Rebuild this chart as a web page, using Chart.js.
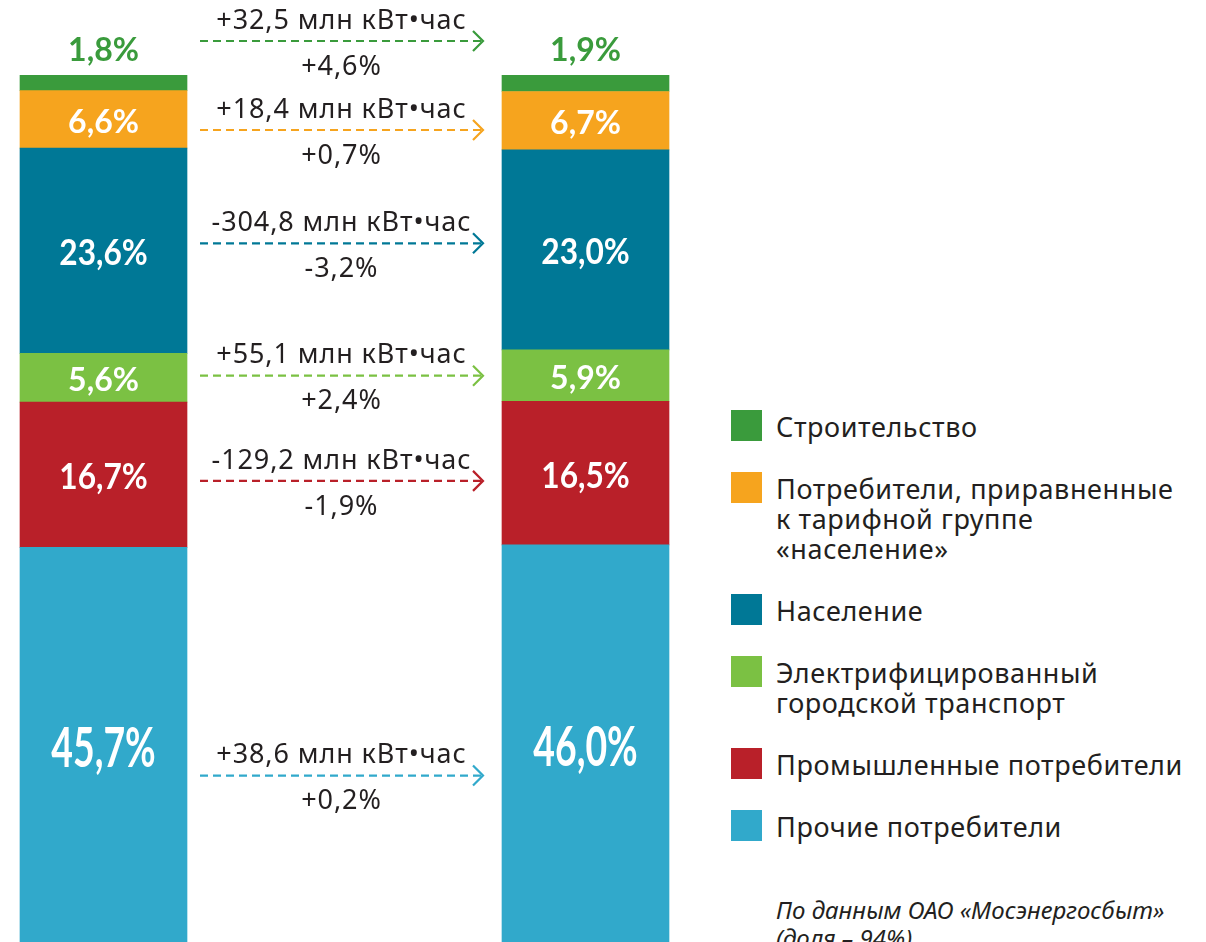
<!DOCTYPE html>
<html lang="ru">
<head>
<meta charset="utf-8">
<title>Структура полезного отпуска электроэнергии</title>
<script src="https://cdn.jsdelivr.net/npm/chart.js@4.4.1/dist/chart.umd.min.js"></script>
<style>
  html, body { margin: 0; padding: 0; background: #fff; overflow: hidden; }
  body { width: 1206px; height: 942px; position: relative; font-family: "Noto Sans", sans-serif; color: #231f20; }
  #wrap { position: absolute; left: -17px; top: 0; width: 740px; height: 945px; }
  #legend { position: absolute; left: 731px; top: 410px; width: 475px; }
  .item { display: flex; align-items: flex-start; margin-bottom: 30px; }
  .sw { width: 31px; height: 31px; flex: none; margin-right: 14px; }
  .txt { font-size: 27px; line-height: 30px; margin-top: 2px; letter-spacing: 0.6px; white-space: nowrap; }
  #note { position: absolute; left: 776px; top: 896px; font-style: italic; font-size: 24px; line-height: 28px; }
</style>
</head>
<body>
<div id="wrap"><canvas id="shareChart" width="740" height="945"></canvas></div>
<div id="legend"></div>
<div id="note">По данным ОАО «Мосэнергосбыт»<br>(доля – 94%)</div>
<script>
"use strict";

// bars: previous year | change column | current year
const categories = ["Прошлый год", "Изменение", "Отчётный год"];

// series from the bottom of the stack to the top
const seriesNames = [
  "Прочие потребители",
  "Промышленные потребители",
  "Электрифицированный городской транспорт",
  "Население",
  "Потребители, приравненные к тарифной группе «население»",
  "Строительство"
];
const legendLines = [
  ["Прочие потребители"],
  ["Промышленные потребители"],
  ["Электрифицированный", "городской транспорт"],
  ["Население"],
  ["Потребители, приравненные", "к тарифной группе", "«население»"],
  ["Строительство"]
];
const sharePrev = [45.7, 16.7, 5.6, 23.6, 6.6, 1.8];
const shareCurr = [46.0, 16.5, 5.9, 23.0, 6.7, 1.9];
const changeMln = [38.6, -129.2, 55.1, -304.8, 18.4, 32.5];
const changePct = [0.2, -1.9, 2.4, -3.2, 0.7, 4.6];

const colors = ["#31a9cb", "#b92029", "#7bc143", "#007896", "#f6a41e", "#3a9b3c"];

function fmt(v, sign) {
  let s = Math.abs(v).toFixed(1).replace(".", ",");
  if (sign) s = (v < 0 ? "-" : "+") + s;
  return s;
}

// vertical nudge of each change arrow, bottom to top
const arrowShift = [30, 7, -1, -7, 10, -7];

function labelStyle(h) {
  if (h > 300) return { size: 55, sx: 0.68 };
  if (h > 120) return { size: 36, sx: 0.88 };
  return { size: 32, sx: 1 };
}

const shareLabels = {
  id: "shareLabels",
  afterDatasetsDraw(chart) {
    const ctx = chart.ctx;
    const n = chart.data.datasets.length;
    ctx.save();
    ctx.textAlign = "center";
    ctx.textBaseline = "middle";
    for (let i = 0; i < n; i++) {
      const meta = chart.getDatasetMeta(i);
      const left = meta.data[0];
      const right = meta.data[2];
      const ys = [];
      [[left, sharePrev[i]], [right, shareCurr[i]]].forEach(([bar, val]) => {
        const h = Math.abs(bar.base - bar.y);
        let y = (bar.y + bar.base) / 2;
        let color = "#fff";
        let st = labelStyle(h);
        if (i === n - 1) {
          y = bar.y - 27;
          color = colors[i];
          st = { size: 32, sx: 1 };
        }
        ys.push(y);
        ctx.save();
        ctx.fillStyle = color;
        ctx.font = "bold " + st.size + "px Lato";
        ctx.translate(bar.x, y + 3);
        ctx.scale(st.sx, 1);
        ctx.fillText(fmt(val, false) + "%", 0, 0);
        ctx.restore();
      });

      // change arrow between the bars
      const x0 = left.x + left.width / 2 + 13;
      const x1 = right.x - right.width / 2 - 19;
      const y = (ys[0] + ys[1]) / 2 + arrowShift[i];
      ctx.strokeStyle = colors[i];
      ctx.lineWidth = 2.2;
      ctx.setLineDash([8, 5]);
      ctx.beginPath();
      ctx.moveTo(x0, y);
      ctx.lineTo(x1 - 2, y);
      ctx.stroke();
      ctx.setLineDash([]);
      ctx.beginPath();
      ctx.moveTo(x1 - 10, y - 10);
      ctx.lineTo(x1, y);
      ctx.lineTo(x1 - 10, y + 10);
      ctx.stroke();

      const cx = (x0 + x1) / 2;
      ctx.fillStyle = "#231f20";
      ctx.font = "27px 'Noto Sans'";
      ctx.letterSpacing = "0.9px";
      ctx.fillText(fmt(changeMln[i], true) + " млн кВт•час", cx, y - 20);
      ctx.fillText(fmt(changePct[i], true) + "%", cx, y + 26);
      ctx.letterSpacing = "0px";
    }
    ctx.restore();
  }
};

const datasets = seriesNames.map((name, i) => ({
  label: name,
  data: [sharePrev[i], null, shareCurr[i]],
  backgroundColor: colors[i],
  borderWidth: 0,
  barThickness: 167
}));

new Chart(document.getElementById("shareChart").getContext("2d"), {
  type: "bar",
  data: { labels: categories, datasets: datasets },
  options: {
    responsive: false,
    animation: false,
    layout: { padding: { top: 75, right: 17, bottom: 0, left: 0 } },
    plugins: { legend: { display: false }, tooltip: { enabled: false } },
    scales: {
      x: { display: false, stacked: true, offset: true },
      y: { display: false, stacked: true, min: 0, max: 100 }
    }
  },
  plugins: [shareLabels]
});

// legend, top to bottom
const legend = document.getElementById("legend");
for (let i = seriesNames.length - 1; i >= 0; i--) {
  const item = document.createElement("div");
  item.className = "item";
  item.title = seriesNames[i];
  const sw = document.createElement("div");
  sw.className = "sw";
  sw.style.background = colors[i];
  const txt = document.createElement("div");
  txt.className = "txt";
  txt.innerHTML = legendLines[i].join("<br>");
  item.appendChild(sw);
  item.appendChild(txt);
  legend.appendChild(item);
}
</script>
</body>
</html>
